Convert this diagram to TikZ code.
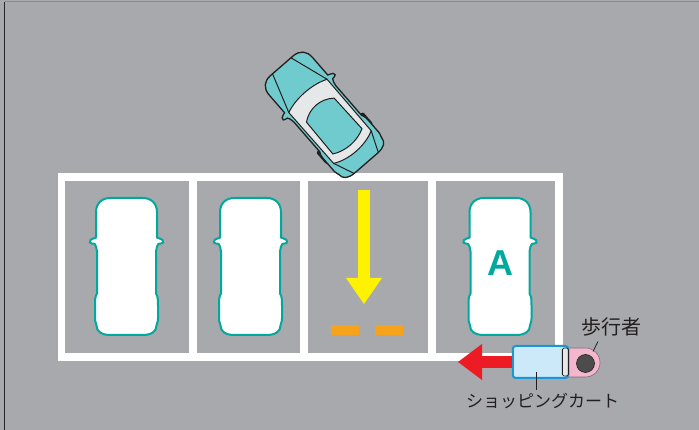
\documentclass[tikz,border=0pt]{standalone}
\usepackage{fontspec}
\setmainfont{Liberation Sans}
\newfontfamily\jpfont{Noto Sans CJK JP}
\usepackage{xcolor}
\usepackage{tikz}
\usetikzlibrary{arrows.meta,positioning}

\definecolor{asphalt}{HTML}{A7A9AC}
\definecolor{bayteal}{HTML}{00A99D}
\definecolor{bodyteal}{HTML}{6FCBCD}
\definecolor{ink}{HTML}{231F20}
\definecolor{glass}{HTML}{E6E7E8}
\definecolor{guideyellow}{HTML}{FFF200}
\definecolor{markorange}{HTML}{F7A21B}
\definecolor{warnred}{HTML}{ED1C24}
\definecolor{cartblue}{HTML}{1B95D3}
\definecolor{cartfill}{HTML}{CBE9F8}
\definecolor{walkerpink}{HTML}{F4B6CD}

\begin{document}
\begin{tikzpicture}[x=1pt, y=1pt,
  bayline/.style={white, line width=7.5pt},
  parked/.style={draw=bayteal, fill=white, line width=2pt},
  bigarrow/.style={line width=12pt, -{Triangle[length=#1, width=36pt, line width=0pt]}},
  cartbox/.style={draw=cartblue, fill=cartfill, line width=2pt, rounded corners=3pt, minimum width=55.5pt, minimum height=32pt, inner sep=0pt},
  handlebar/.style={draw=ink, fill=glass, line width=0.8pt, rounded corners=1.5pt, minimum width=6pt, minimum height=28pt, inner sep=0pt},
  walkerhead/.style={circle, draw=ink, fill=black!70, line width=0.6pt, minimum size=18pt, inner sep=0pt},
  leaderline/.style={ink, line width=0.8pt},
  labeltext/.style={text=ink, inner sep=1pt},
  carbody/.pic={
    \path[pic actions] (0,68.5) -- (16,68.5) .. controls (25,68.5) and (30.5,63) .. (30.5,54)
      -- (30.5,29) .. controls (32,28) and (34.5,28) .. (36,26.5)
      .. controls (37.5,25) and (36.5,22.5) .. (34.5,23)
      .. controls (32.5,23.5) and (31,22.5) .. (30.5,20)
      -- (29.5,15) -- (29.5,-27)
      .. controls (31.5,-30) and (31.5,-34) .. (31.5,-39)
      -- (31.5,-52) .. controls (31.5,-56) and (30,-57) .. (30,-59)
      .. controls (30,-65) and (25,-68.5) .. (16,-68.5)
      -- (-16,-68.5) .. controls (-25,-68.5) and (-30,-65) .. (-30,-59)
      .. controls (-30,-57) and (-31.5,-56) .. (-31.5,-52)
      -- (-31.5,-39) .. controls (-31.5,-34) and (-31.5,-30) .. (-29.5,-27)
      -- (-29.5,15) -- (-30.5,20)
      .. controls (-31,22.5) and (-32.5,23.5) .. (-34.5,23)
      .. controls (-36.5,22.5) and (-37.5,25) .. (-36,26.5)
      .. controls (-34.5,28) and (-32,28) .. (-30.5,29)
      -- (-30.5,54) .. controls (-30.5,63) and (-25,68.5) .. (-16,68.5) -- cycle;
  }]
% ground
\fill[asphalt] (0,0) rectangle (699,430);
\useasboundingbox (0,0) rectangle (699,430);
\draw[black!45, line width=1pt] (4.5,428.3) -- (699,428.3);
\draw[black!85, line width=1.4pt] (4.5,0) -- (4.5,428.3);

% parking bays
\draw[bayline] (61.5,73) rectangle (559,253);
\foreach \x in {193,304,432}
  \draw[bayline] (\x,73) -- (\x,253);

% parked cars
\pic[parked] (car1) at (126.5,163.5) {carbody};
\pic[parked] (car2) at (250.5,163.5) {carbody};
\pic[parked] (carA) at (500,163.5) {carbody};
\node[font=\bfseries\fontsize{36}{36}\selectfont, text=bayteal] (markA) at (500,167) {A};

% way into the free bay
\coordinate (dropstart) at (364,240);
\coordinate (dropend) at (364,126);
\draw[bigarrow=26pt, guideyellow] (dropstart) -- (dropend);
\foreach \x in {331,375}
  \fill[markorange] (\x,95) rectangle ++(28,10);

% car turning in
\begin{scope}[shift={(324,315.6)}, rotate=41, scale=0.94]
  \fill[ink, rounded corners=2pt] (-33,-42) rectangle (33,-25);
  \pic[transform shape, draw=ink, fill=bodyteal, line width=1.3pt] (movingcar) at (0,0) {carbody};
  \draw[ink, fill=glass, line width=1pt] (-27,26) .. controls (-12,32.7) and (12,32.7) .. (27,26)
    -- (26.5,-46) .. controls (12,-54) and (-12,-54) .. (-26.5,-46) -- cycle;
  \draw[ink, fill=bodyteal, line width=1pt] (-19.5,6) .. controls (-8,15.3) and (8,15.3) .. (19.5,6)
    -- (20.5,-38) .. controls (8,-44.7) and (-8,-44.7) .. (-20.5,-38) -- cycle;
  \draw[ink, line width=1pt] (-13,68.5) -- (-27,26) (13,68.5) -- (27,26)
    (-26.5,-46) -- (-17,-68.5) (26.5,-46) -- (17,-68.5);
\end{scope}

% pedestrian with shopping cart
\draw[fill=walkerpink, draw=black!55, line width=0.6pt] (566,82) -- (585.5,82)
  arc[start angle=90, end angle=-90, radius=14.5] -- (566,53) -- cycle;
\node[cartbox] (cart) at (540.5,68) {};
\node[handlebar, left=0.5pt of cart.east] (handle) {};
\node[walkerhead] (walker) at (585.5,66.5) {};
\coordinate (pushend) at (458,68);
\draw[bigarrow=24pt, warnred] (cart.west) -- (pushend);

% labels
\node[labeltext, font=\jpfont\fontsize{20}{20}\selectfont] (walkerlabel) at (611,103.5) {歩行者};
\coordinate (walkerpin) at (593,78.5);
\draw[leaderline] (walkerpin) -- ++(5,10);
\node[labeltext, font=\jpfont\fontsize{17}{17}\selectfont, below=13pt of cart, xshift=2pt] (cartlabel) {ショッピングカート};
\coordinate (cartpin) at (536,58);
\draw[leaderline] (cartpin) -- ([yshift=2pt]cartpin |- cartlabel.north);
\end{tikzpicture}
\end{document}
